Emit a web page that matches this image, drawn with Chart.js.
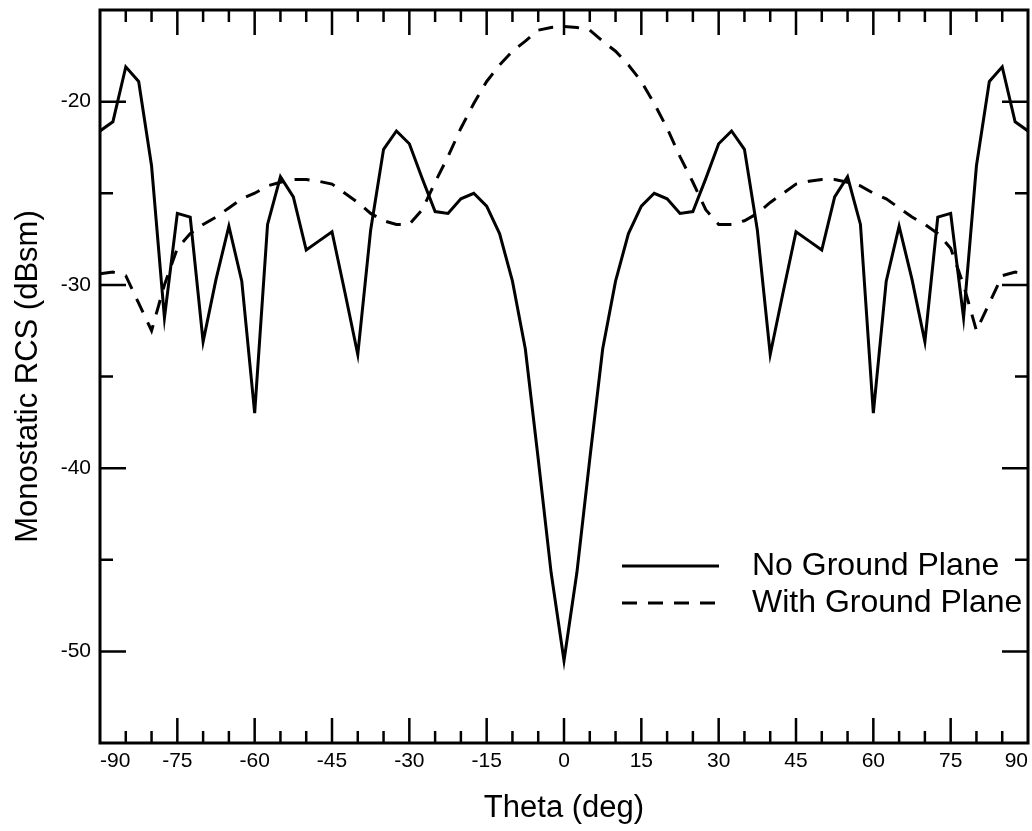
<!DOCTYPE html>
<html>
<head>
<meta charset="utf-8">
<title>Monostatic RCS vs Theta</title>
<script src="https://cdn.jsdelivr.net/npm/chart.js@4.4.0/dist/chart.umd.min.js"></script>
<style>
    html, body { margin: 0; padding: 0; background: #fff; }
    #wrap { width: 1032px; height: 831px; }
</style>
</head>
<body>
<div id="wrap"><canvas id="rcsChart" width="1032" height="831"></canvas></div>
<script>
// Theta angles (deg), sampled every 2.5 deg
const theta = [
    -90, -87.5, -85, -82.5, -80, -77.5, -75, -72.5, -70, -67.5, -65, -62.5,
    -60, -57.5, -55, -52.5, -50, -47.5, -45, -42.5, -40, -37.5, -35, -32.5,
    -30, -27.5, -25, -22.5, -20, -17.5, -15, -12.5, -10, -7.5, -5, -2.5,
    0,
    2.5, 5, 7.5, 10, 12.5, 15, 17.5, 20, 22.5, 25, 27.5, 30,
    32.5, 35, 37.5, 40, 42.5, 45, 47.5, 50, 52.5, 55, 57.5, 60,
    62.5, 65, 67.5, 70, 72.5, 75, 77.5, 80, 82.5, 85, 87.5, 90
];

// RCS without ground plane (dBsm)
const noGroundPlane = [
    -21.6, -21.1, -18.1, -18.9, -23.5, -31.8, -26.1, -26.3, -33.1, -29.7, -26.8, -29.8,
    -37.0, -26.7, -24.1, -25.2, -28.1, -27.6, -27.1, -30.4, -33.8, -27.0, -22.6, -21.6,
    -22.3, -24.2, -26.0, -26.1, -25.3, -25.0, -25.7, -27.2, -29.8, -33.5, -39.5, -45.7,
    -50.5,
    -45.7, -39.5, -33.5, -29.8, -27.2, -25.7, -25.0, -25.3, -26.1, -26.0, -24.2, -22.3,
    -21.6, -22.6, -27.0, -33.8, -30.4, -27.1, -27.6, -28.1, -25.2, -24.1, -26.7, -37.0,
    -29.8, -26.8, -29.7, -33.1, -26.3, -26.1, -31.8, -23.5, -18.9, -18.1, -21.1, -21.6
];

// RCS with ground plane (dBsm)
const withGroundPlane = [
    -29.4, -29.3, -29.5, -31.0, -32.5, -30.0, -28.0, -27.2, -26.7, -26.3, -25.8, -25.3,
    -25.0, -24.6, -24.4, -24.25, -24.25, -24.35, -24.5, -25.0, -25.5, -26.1, -26.5, -26.7,
    -26.7, -25.9, -24.4, -23.0, -21.45, -20.1, -18.9, -18.0, -17.25, -16.7, -16.1, -15.95,
    -15.9,
    -15.95, -16.1, -16.7, -17.25, -18.0, -18.9, -20.1, -21.45, -23.0, -24.4, -25.9, -26.7,
    -26.7, -26.5, -26.1, -25.5, -25.0, -24.5, -24.35, -24.25, -24.25, -24.4, -24.6, -25.0,
    -25.3, -25.8, -26.3, -26.7, -27.2, -28.0, -30.0, -32.5, -31.0, -29.5, -29.3, -29.4
];

const seriesNames = ["No Ground Plane", "With Ground Plane"];

const FONT = "'Liberation Sans', Arial, Helvetica, sans-serif";
const DASH = [15, 11];

function toPoints(values) {
    return theta.map((t, i) => ({ x: t, y: values[i] }));
}

// no extra label padding, so the plot box is exactly where layout puts it
function noScalePadding(s) {
    s.paddingLeft = 0;
    s.paddingRight = 0;
    s.paddingTop = 0;
    s.paddingBottom = 0;
}

// frame + inward ticks on all four sides
const frameTicks = {
    id: "frameTicks",
    afterDraw(chart) {
        const { ctx, chartArea: a, scales: { x, y } } = chart;
        ctx.save();
        ctx.strokeStyle = "#000";
        ctx.lineWidth = 3;
        ctx.strokeRect(a.left, a.top, a.right - a.left, a.bottom - a.top);
        ctx.lineWidth = 2.5;
        ctx.beginPath();
        for (let v = -85; v <= 85; v += 5) {
            const px = x.getPixelForValue(v);
            const len = v % 15 === 0 ? 25 : 12;
            ctx.moveTo(px, a.bottom); ctx.lineTo(px, a.bottom - len);
            ctx.moveTo(px, a.top); ctx.lineTo(px, a.top + len);
        }
        for (let v = -50; v <= -20; v += 5) {
            const py = y.getPixelForValue(v);
            const len = v % 10 === 0 ? 26 : 13;
            ctx.moveTo(a.left, py); ctx.lineTo(a.left + len, py);
            ctx.moveTo(a.right, py); ctx.lineTo(a.right - len, py);
        }
        ctx.stroke();
        ctx.restore();
    }
};

// legend inside the plot, lower right
const innerLegend = {
    id: "innerLegend",
    afterDraw(chart) {
        const ctx = chart.ctx;
        const rows = [566, 603];
        ctx.save();
        chart.data.datasets.forEach((ds, i) => {
            ctx.strokeStyle = "#000";
            ctx.lineWidth = 3;
            ctx.setLineDash(ds.borderDash || []);
            ctx.beginPath();
            ctx.moveTo(622, rows[i]);
            ctx.lineTo(719, rows[i]);
            ctx.stroke();
            ctx.setLineDash([]);
            ctx.fillStyle = "#000";
            ctx.font = "32px " + FONT;
            ctx.textBaseline = "middle";
            ctx.textAlign = "left";
            ctx.fillText(ds.label, 752, rows[i]);
        });
        ctx.restore();
    }
};

new Chart(document.getElementById("rcsChart").getContext("2d"), {
    type: "line",
    data: {
        datasets: [{
            label: seriesNames[0],
            data: toPoints(noGroundPlane),
            borderColor: "#000",
            borderWidth: 3,
            pointRadius: 0,
            tension: 0,
            fill: false
        }, {
            label: seriesNames[1],
            data: toPoints(withGroundPlane),
            borderColor: "#000",
            borderWidth: 3,
            borderDash: DASH,
            pointRadius: 0,
            tension: 0,
            fill: false
        }]
    },
    options: {
        responsive: false,
        animation: false,
        layout: { padding: { top: 10, right: 4, left: 0, bottom: 0 } },
        plugins: { legend: { display: false }, tooltip: { enabled: false } },
        scales: {
            x: {
                type: "linear",
                min: -90,
                max: 90,
                afterFit: s => { s.height = 88; noScalePadding(s); },
                grid: { display: false, drawTicks: false },
                border: { display: false },
                ticks: {
                    stepSize: 15,
                    align: "inner",
                    padding: 6,
                    maxRotation: 0,
                    autoSkip: false,
                    color: "#000",
                    font: { family: FONT, size: 21 }
                },
                title: {
                    display: true,
                    text: "Theta (deg)",
                    color: "#000",
                    font: { family: FONT, size: 31 },
                    padding: { top: 0, bottom: 4 }
                }
            },
            y: {
                min: -55,
                max: -15,
                afterFit: s => { s.width = 100; noScalePadding(s); },
                grid: { display: false, drawTicks: false },
                border: { display: false },
                ticks: {
                    stepSize: 5,
                    padding: 9,
                    color: "#000",
                    font: { family: FONT, size: 21 },
                    callback: v => (v % 10 === 0 ? String(v) : "")
                },
                title: {
                    display: true,
                    text: "Monostatic RCS (dBsm)",
                    color: "#000",
                    font: { family: FONT, size: 31 },
                    padding: { top: 10, bottom: 0 }
                }
            }
        }
    },
    plugins: [frameTicks, innerLegend]
});
</script>
</body>
</html>
